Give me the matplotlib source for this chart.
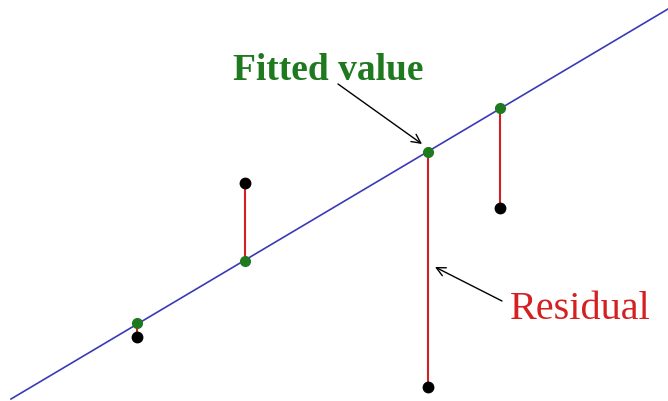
import matplotlib.pyplot as plt
import numpy as np

# observed points and fitted values (pixel-like units, y up)
x_obs = [137, 245, 428, 500]
y_obs = [64, 218, 14, 193]
y_fit = [78, 140, 249, 293]

# regression line ends
line_x = [11, 668]
line_y = [2, 392]

fig = plt.figure(figsize=(6.68, 4.02), dpi=100)
ax = fig.add_axes([0, 0, 1, 1], frameon=False)
ax.set_xlim(0, 668)
ax.set_ylim(0, 402)
ax.set_xticks([])
ax.set_yticks([])

ax.plot(line_x, line_y, color="#3a3ab8", lw=1.2, zorder=1)

for x, yo, yf in zip(x_obs, y_obs, y_fit):
    ax.plot([x, x], [yo, yf], color="#d42020", lw=1.5, zorder=2)

ax.plot(x_obs, y_obs, "o", color="black", ms=7.5, zorder=3)
ax.plot(x_obs, y_fit, "o", color="#1f7a1f", ms=7, zorder=4)

ax.text(328, 332, "Fitted value", ha="center", va="center",
        color="#1f7a1f", fontsize=27, fontweight="bold",
        family="Liberation Serif")
ax.annotate("", xy=(422, 257), xytext=(338, 317),
            arrowprops=dict(arrowstyle="->", color="black", lw=1,
                            shrinkA=0, shrinkB=0, mutation_scale=16))

ax.text(580, 92, "Residual", ha="center", va="center",
        color="#d42020", fontsize=29, family="Liberation Serif")
ax.annotate("", xy=(435, 134), xytext=(502, 100),
            arrowprops=dict(arrowstyle="->", color="black", lw=1,
                            shrinkA=0, shrinkB=0, mutation_scale=16))

fig.savefig("out.png", dpi=100)
